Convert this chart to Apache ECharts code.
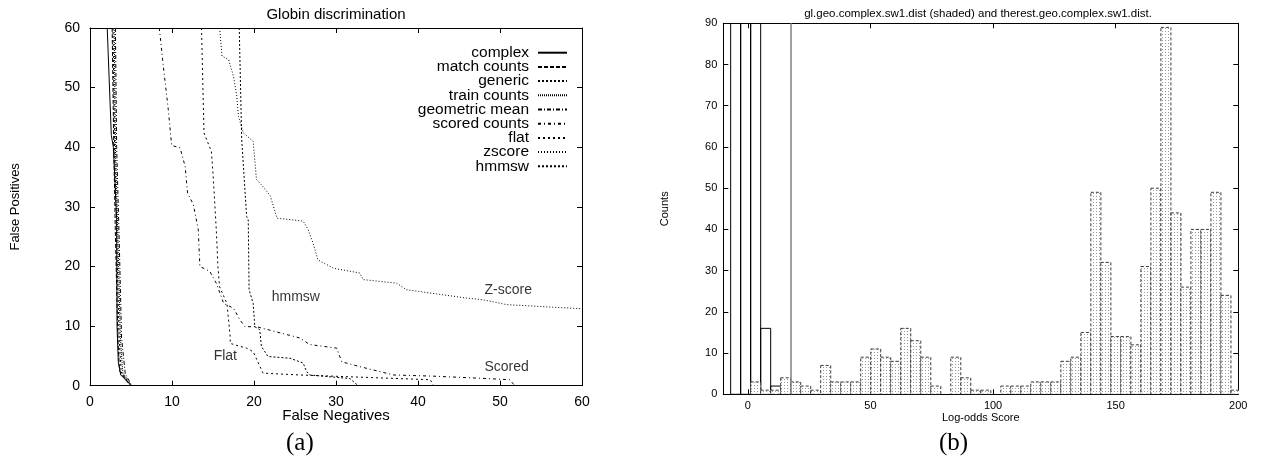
<!DOCTYPE html>
<html>
<head>
<meta charset="utf-8">
<script src="https://cdn.jsdelivr.net/npm/echarts@6/dist/echarts.min.js"></script>
<style>
  html, body { margin: 0; padding: 0; background: #fff; }
  #chart { width: 1261px; height: 464px; }
</style>
</head>
<body>
<div id="chart"></div>
<script>
// ---- panel (a): globin discrimination curves, [false negatives, false positives]
const complexPts = [[2.1, 60], [2.6, 42], [2.85, 40], [3.25, 28], [3.3, 10], [3.45, 4], [3.75, 1.8], [5.05, 0]];
const matchCountsPts = [[2.7, 60], [2.9, 40], [3.1, 25], [3.4, 8], [3.6, 2.5], [4.9, 0]];
const genericPts = [[2.8, 60], [3.0, 40], [3.25, 25], [3.55, 8], [3.8, 2.3], [5.0, 0]];
const trainCountsPts = [[2.95, 60], [3.1, 40], [3.4, 25], [3.7, 8], [4.0, 2.2], [5.0, 0]];
const geoMeanPts = [[3.1, 60], [3.25, 40], [3.55, 25], [3.85, 8], [4.3, 2], [5.1, 0]];
const scoredCountsPts = [[8.45, 60], [8.94, 53.6], [9.55, 46.3], [9.96, 40.3], [10.98, 39.9], [11.6, 36.8],
  [11.9, 32.3], [12.6, 30.4], [13.2, 26.2], [13.4, 20.0], [14.6, 19.2], [15.4, 17.2], [16.3, 13.8],
  [17.5, 13.0], [18.3, 11.0], [18.9, 9.9], [20.3, 9.9], [25.6, 8.0], [26.8, 6.9], [30.1, 6.3],
  [30.7, 4.0], [32.9, 3.2], [37, 1.8], [41.9, 1.6], [48.4, 1.2], [51.2, 1.0], [51.8, 0]];
const flatPts = [[13.6, 60], [13.9, 42.4], [14.8, 39.3], [15.0, 35.7], [15.4, 26.2], [15.6, 20.0],
  [15.8, 16.6], [16.7, 13.8], [17.1, 8.2], [17.1, 7.1], [18.3, 6.6], [19.1, 6.3], [19.9, 5.7],
  [21.1, 2.1], [25.6, 1.8], [41.5, 1.0], [41.9, 0]];
const zscorePts = [[15.8, 60], [16.1, 55.3], [16.9, 54.7], [17.5, 51.9], [17.9, 48.6], [18.1, 45.2],
  [18.7, 42.4], [19.9, 41.0], [20.3, 34.6], [21.1, 33.4], [22.0, 31.8], [22.8, 28.1], [24.8, 27.8],
  [26.0, 27.6], [26.6, 26.2], [27.2, 23.9], [27.8, 21.1], [29.7, 19.7], [32.9, 18.9], [33.3, 17.8],
  [37.4, 17.2], [38.6, 16.1], [45.9, 14.7], [48.0, 14.4], [50.8, 13.6], [60, 12.9]];
const hmmswPts = [[18.2, 60], [18.5, 41.3], [19.1, 28.4], [19.3, 27.8], [19.4, 16.1], [19.9, 13.8],
  [20.1, 9.9], [20.7, 9.4], [20.9, 6.6], [21.7, 4.9], [24.4, 4.6], [25.6, 4.0], [26.0, 3.8],
  [26.4, 2.4], [26.8, 1.8], [31.7, 1.2], [32.7, 0]];
const curveNames = ['complex', 'match counts', 'generic', 'train counts', 'geometric mean',
  'scored counts', 'flat', 'zscore', 'hmmsw'];
const curveData = [complexPts, matchCountsPts, genericPts, trainCountsPts, geoMeanPts,
  scoredCountsPts, flatPts, zscorePts, hmmswPts];
const curveDash = ['solid', [4, 2], [2, 2], [1, 1], [4, 2, 1, 2], [3, 3, 1, 3], [2, 3], [1, 2], [2, 2]];
// in-plot labels: [x, y, text]
const curveNotes = [[25.1, 14.9, 'hmmsw'], [16.5, 5.0, 'Flat'], [51.0, 16.0, 'Z-score'], [50.8, 3.1, 'Scored']];

// ---- panel (b): log-odds score histogram
const binLeft = -7;
const binWidth = 4.08;
const shadedCounts = [0, 0, 3, 1, 1, 4, 3, 2, 1, 7, 3, 3, 3, 9, 11, 9, 8, 16, 13, 9, 2, 0, 9, 4, 1, 1, 0,
  2, 2, 2, 3, 3, 3, 8, 9, 15, 49, 32, 14, 14, 12, 31, 50, 89, 44, 26, 40, 40, 49, 24, 1];
// first three bins run far off the top of the plot
const restCounts = [520, 310, 140, 16, 2, 0, 0, 0, 0, 0, 0, 0, 0, 0, 0, 0, 0, 0, 0, 0, 0, 0, 0, 0, 0, 0, 0,
  0, 0, 0, 0, 0, 0, 0, 0, 0, 0, 0, 0, 0, 0, 0, 0, 0, 0, 0, 0, 0, 0, 0, 0];
const thresholdScore = 17.4;
const scoreTicks = [0, 50, 100, 150, 200];

const FONT = 'Liberation Sans, Arial, Helvetica, sans-serif';

function toBins(counts) {
  return counts.map((c, i) => [binLeft + i * binWidth, binLeft + (i + 1) * binWidth, c]);
}

// dotted shading like the gnuplot fill
const dotCanvas = document.createElement('canvas');
dotCanvas.width = 3;
dotCanvas.height = 3;
const dctx = dotCanvas.getContext('2d');
dctx.fillStyle = '#fff';
dctx.fillRect(0, 0, 3, 3);
dctx.fillStyle = '#9a9a9a';
dctx.fillRect(1, 1, 1, 1);

function barRenderer(style) {
  return function (params, api) {
    const v = api.value(2);
    if (!v) return;
    const a = api.coord([api.value(0), v]);
    const b = api.coord([api.value(1), 0]);
    return {
      type: 'rect',
      shape: { x: a[0], y: a[1], width: b[0] - a[0], height: b[1] - a[1] },
      style: style
    };
  };
}

function frameAxis(extra) {
  return Object.assign({
    type: 'value',
    nameMoveOverlap: false,
    splitLine: { show: false },
    axisLine: { show: true, onZero: false, lineStyle: { color: '#000', width: 1 } },
    axisTick: { show: true, inside: true, length: 5, lineStyle: { color: '#000' } },
    axisLabel: { show: false }
  }, extra);
}

const chart = echarts.init(document.getElementById('chart'));

const lineSeries = curveNames.map((name, i) => ({
  name: name,
  type: 'line',
  xAxisIndex: 0,
  yAxisIndex: 0,
  data: curveData[i],
  symbol: 'none',
  clip: true,
  itemStyle: { color: '#000' },
  lineStyle: { color: '#000', width: 1, type: curveDash[i] }
}));

chart.setOption({
  animation: false,
  backgroundColor: '#fff',
  title: [
    { text: 'Globin discrimination', left: 331, top: 2, textAlign: 'center',
      textStyle: { fontFamily: FONT, fontSize: 15, fontWeight: 'normal', color: '#000' } },
    { text: 'gl.geo.complex.sw1.dist (shaded) and therest.geo.complex.sw1.dist.', left: 973, top: 3, textAlign: 'center',
      textStyle: { fontFamily: FONT, fontSize: 11.5, fontWeight: 'normal', color: '#000' } }
  ],
  legend: {
    data: curveNames,
    orient: 'vertical',
    align: 'right',
    right: 693,
    top: 44.7,
    padding: 0,
    itemWidth: 29,
    itemHeight: 10,
    itemGap: -1.8,
    itemStyle: { opacity: 0 },
    textStyle: { fontFamily: FONT, fontSize: 15.5, color: '#000', lineHeight: 14, padding: [0, 4, 0, 0] }
  },
  grid: [
    { left: 90, right: 679, top: 28, bottom: 78.3 },
    { left: 723.3, right: 22.7, top: 23.3, bottom: 69.7 }
  ],
  xAxis: [
    frameAxis({ gridIndex: 0, position: 'bottom', min: 0, max: 60, interval: 10,
      axisLabel: { show: true, margin: 9, fontFamily: FONT, fontSize: 14, color: '#000' },
      name: 'False Negatives', nameLocation: 'middle', nameGap: 23,
      nameTextStyle: { fontFamily: FONT, fontSize: 15, color: '#000' } }),
    frameAxis({ gridIndex: 0, position: 'top', min: 0, max: 60, interval: 10 }),
    frameAxis({ gridIndex: 1, position: 'bottom', min: -10, max: 200,
      axisTick: { show: true, inside: true, length: 5, customValues: scoreTicks, lineStyle: { color: '#000' } },
      axisLabel: { show: true, margin: 6, customValues: scoreTicks, fontFamily: FONT, fontSize: 11, color: '#000' },
      name: 'Log-odds Score', nameLocation: 'middle', nameGap: 18,
      nameTextStyle: { fontFamily: FONT, fontSize: 11, color: '#000' } }),
    frameAxis({ gridIndex: 1, position: 'top', min: -10, max: 200,
      axisTick: { show: true, inside: true, length: 5, customValues: scoreTicks, lineStyle: { color: '#000' } } })
  ],
  yAxis: [
    frameAxis({ gridIndex: 0, position: 'left', min: 0, max: 60, interval: 10,
      axisLabel: { show: true, margin: 10, fontFamily: FONT, fontSize: 14, color: '#000' },
      name: 'False Positives', nameLocation: 'middle', nameGap: 68, nameRotate: 90,
      nameTextStyle: { fontFamily: FONT, fontSize: 13, color: '#000' } }),
    frameAxis({ gridIndex: 0, position: 'right', min: 0, max: 60, interval: 10 }),
    frameAxis({ gridIndex: 1, position: 'left', min: 0, max: 90, interval: 10,
      axisLabel: { show: true, margin: 6, fontFamily: FONT, fontSize: 11, color: '#000' },
      name: 'Counts', nameLocation: 'middle', nameGap: 53, nameRotate: 90,
      nameTextStyle: { fontFamily: FONT, fontSize: 11, color: '#000' } }),
    frameAxis({ gridIndex: 1, position: 'right', min: 0, max: 90, interval: 10 })
  ],
  series: lineSeries.concat([
    {
      name: 'notes',
      type: 'scatter',
      xAxisIndex: 0,
      yAxisIndex: 0,
      silent: true,
      symbolSize: 0,
      data: curveNotes,
      label: {
        show: true, position: 'inside', formatter: p => p.value[2],
        fontFamily: FONT, fontSize: 14, color: '#000'
      }
    },
    {
      name: 'therest',
      type: 'custom',
      xAxisIndex: 2,
      yAxisIndex: 2,
      clip: true,
      silent: true,
      data: toBins(restCounts),
      encode: { x: [0, 1], y: 2 },
      renderItem: barRenderer({ fill: 'none', stroke: '#000', lineWidth: 1 }),
      markLine: {
        silent: true, symbol: 'none', label: { show: false },
        lineStyle: { color: '#808080', width: 1.5, type: 'solid' },
        data: [{ xAxis: thresholdScore }]
      }
    },
    {
      name: 'gl',
      type: 'custom',
      xAxisIndex: 2,
      yAxisIndex: 2,
      clip: true,
      silent: true,
      data: toBins(shadedCounts),
      encode: { x: [0, 1], y: 2 },
      renderItem: barRenderer({
        fill: { image: dotCanvas, repeat: 'repeat' },
        stroke: '#3a3a3a', lineWidth: 1, lineDash: [3, 2]
      })
    }
  ]),
  graphic: [
    { type: 'text', left: 286, top: 431,
      style: { text: '(a)', font: '25px "Liberation Serif", "DejaVu Serif", serif', fill: '#000' } },
    { type: 'text', left: 939, top: 431,
      style: { text: '(b)', font: '25px "Liberation Serif", "DejaVu Serif", serif', fill: '#000' } }
  ]
});
</script>
</body>
</html>
